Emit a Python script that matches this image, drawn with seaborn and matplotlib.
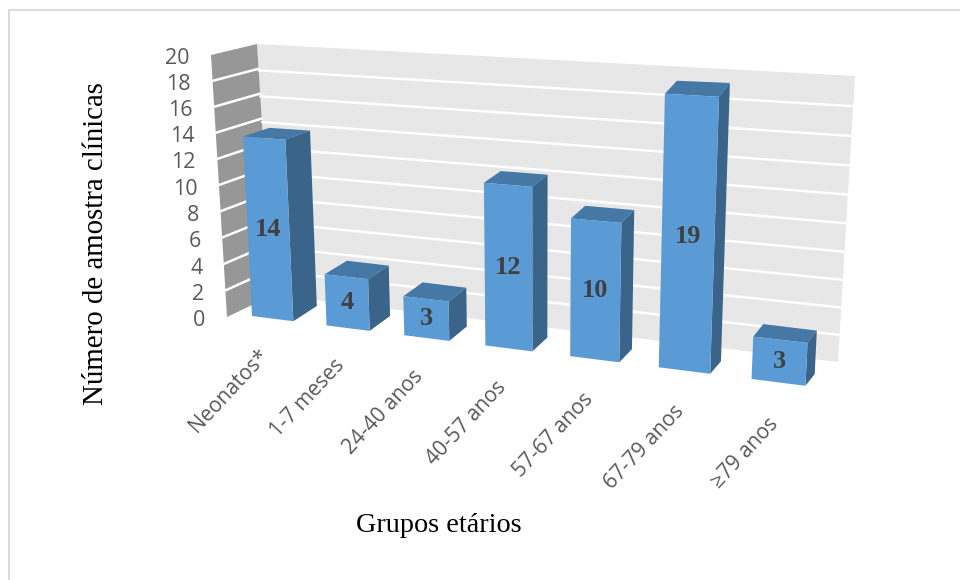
import numpy as np
import matplotlib
matplotlib.use("Agg")
import matplotlib.pyplot as plt
from matplotlib.patches import Polygon, Rectangle
from matplotlib.transforms import Affine2D, IdentityTransform, Transform
import seaborn as sns

# Chart values
categories = ["Neonatos*", "1-7 meses", "24-40 anos", "40-57 anos",
              "57-67 anos", "67-79 anos", "≥79 anos"]
samples = [14, 4, 3, 12, 10, 19, 3]
y_ticks = list(range(0, 21, 2))

W, H = 960, 580
X0, X1 = -0.5, 6.5   # category span
V0, V1 = 0, 20       # value span
BAR_WIDTH = 0.56


class Homography(Transform):
    """Projective map from a plane's own (u, v) coordinates to display pixels.

    `warp` adjusts how quickly spacing along u grows towards the viewer.
    """
    input_dims = 2
    output_dims = 2
    is_separable = False
    has_inverse = False

    def __init__(self, src, dst_px, warp=1.0):
        super().__init__()
        rows, rhs = [], []
        for (u, v), (px, py) in zip(src, dst_px):
            py = H - py
            rows.append([u, v, 1, 0, 0, 0, -u * px, -v * px])
            rows.append([0, 0, 0, u, v, 1, -u * py, -v * py])
            rhs += [px, py]
        self.m = np.append(np.linalg.solve(np.array(rows, float), np.array(rhs, float)), 1).reshape(3, 3)
        self.u0, self.u1 = src[0][0], src[1][0]
        self.warp = warp

    def transform_non_affine(self, values):
        values = np.array(values, float)
        t = (values[:, 0] - self.u0) / (self.u1 - self.u0)
        values[:, 0] = self.u0 + (self.u1 - self.u0) * t / (t + (1 - t) * self.warp)
        pts = np.column_stack([values, np.ones(len(values))]) @ self.m.T
        return pts[:, :2] / pts[:, 2:3]


def plane(bl, br, tr, tl, x0=X0, x1=X1, warp=1.0):
    return Homography([(x0, V0), (x1, V0), (x1, V1), (x0, V1)], [bl, br, tr, tl], warp)


# Planes of the 3D scene, in depth order from the viewer
FRONT = plane((236, 314), (827, 388.5), (843, 88), (222, 55))
BACK = plane((262, 298.5), (836, 377), (852, 72), (250, 50), warp=0.964)
WALL = plane((273, 295), (838, 362), (855, 76), (257, 44))
SIDE = plane((227, 317), (273, 295), (257, 44), (211, 55), 0, 1)
# Evenly spaced strip holding the value labels, left of the side wall
TICKS = plane((205, 320.5), (206, 320.5), (190, 58), (189, 58), 0, 1)

sns.set_theme(style="white")
fig = plt.figure(figsize=(W / 100, H / 100), dpi=100, facecolor="white")
ax = fig.add_axes([0, 0, 1, 1])

front_color = "#5B9BD5"
side_color = "#3A6489"
top_color = "#4578A5"
tick_color = "#595959"

# Front faces come from seaborn; they are then carried onto the front plane
sns.barplot(x=categories, y=samples, color=front_color, saturation=1,
            width=BAR_WIDTH, ax=ax, linewidth=0)
for bar in ax.patches:
    bar.set_transform(FRONT)
    bar.set_clip_on(False)
    bar.set_zorder(5)

# Walls
ax.add_patch(Polygon([(X0, V0), (X1, V0), (X1, V1), (X0, V1)], transform=WALL,
                     facecolor="#E7E7E7", edgecolor="none", zorder=1, clip_on=False))
ax.add_patch(Polygon([(0, V0), (1, V0), (1, V1), (0, V1)], transform=SIDE,
                     facecolor="#979797", edgecolor="none", zorder=1, clip_on=False))
for tick in y_ticks[1:-1]:
    ax.plot([X0, X1], [tick, tick], transform=WALL, color="white", lw=1.8, zorder=2, clip_on=False)
    ax.plot([0, 1], [tick, tick], transform=SIDE, color="white", lw=1.8, zorder=2, clip_on=False)

# Top and side faces of each bar, joined between the front and back planes
for i, value in enumerate(samples):
    left, right = i - BAR_WIDTH / 2, i + BAR_WIDTH / 2
    f = FRONT.transform(np.array([[left, value], [right, value], [right, 0]], float))
    b = BACK.transform(np.array([[left, value], [right, value], [right, 0]], float))
    ax.add_patch(Polygon([f[0], f[1], b[1], b[0]], transform=IdentityTransform(),
                         facecolor=top_color, edgecolor="none", zorder=4, clip_on=False))
    ax.add_patch(Polygon([f[1], f[2], b[2], b[1]], transform=IdentityTransform(),
                         facecolor=side_color, edgecolor="none", zorder=4, clip_on=False))
    ax.text(i, value / 2, str(value), transform=FRONT, ha="center", va="center",
            family="Liberation Serif", weight="bold", fontsize=19, color="#404040", zorder=6)

# Value axis labels
for tick in y_ticks:
    ax.text(0.5, tick, str(tick), transform=TICKS, ha="right", va="center",
            family="Open Sans", fontsize=15.5, color=tick_color)

# Category labels, slanted and ending under each bar
label_tf = FRONT + Affine2D().translate(-2, 0)
for i, name in enumerate(categories):
    ax.text(i * 1.018 - 0.1, -2.75, name, transform=label_tf, rotation=47, rotation_mode="anchor",
            ha="right", va="center", family="Open Sans", fontsize=15, color=tick_color)

fig.text(96 / W, 1 - 243.5 / H, "Número de amostra clínicas", rotation=90, ha="center", va="center",
         family="Liberation Serif", fontsize=20.8, color="black")
fig.text(438.5 / W, 1 - 526 / H, "Grupos etários", ha="center", va="center",
         family="Liberation Serif", fontsize=20.3, color="black")

# Thin frame along the top and left edges
fig.add_artist(Rectangle((8 / W, 0), 2 / W, 1 - 9 / H, transform=fig.transFigure, facecolor="#DADADA", edgecolor="none"))
fig.add_artist(Rectangle((8 / W, 1 - 11 / H), 1 - 8 / W, 2 / H, transform=fig.transFigure, facecolor="#DADADA", edgecolor="none"))

ax.set_axis_off()
fig.savefig("out.png", dpi=100, facecolor="white")
